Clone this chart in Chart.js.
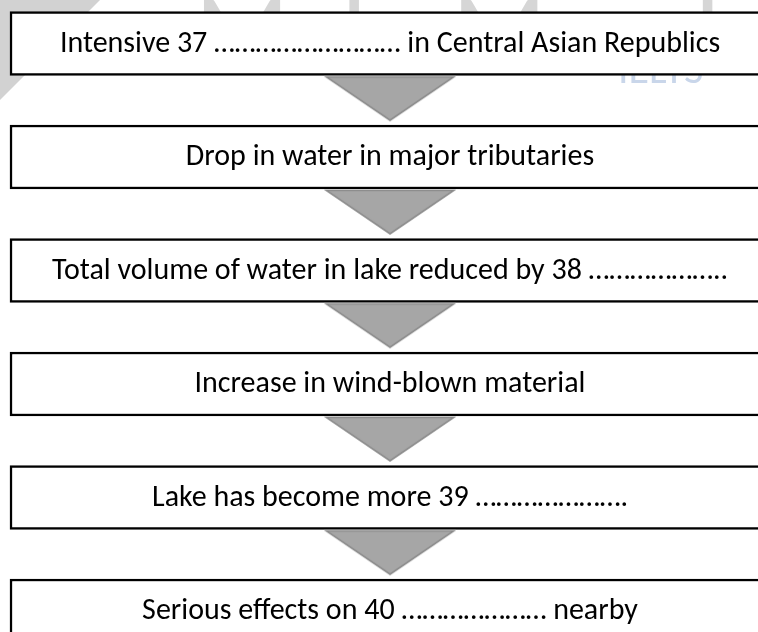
<!DOCTYPE html>
<html>
<head>
<meta charset="utf-8">
<script src="https://cdn.jsdelivr.net/npm/chart.js@4/dist/chart.umd.min.js"></script>
<style>
  html, body { margin: 0; padding: 0; background: #ffffff; }
  #wrap { width: 758px; height: 632px; position: relative; }
</style>
</head>
<body>
<div id="wrap"><canvas id="c" width="758" height="632"></canvas></div>
<script>
// ---- data ----
const steps = [
  "Intensive 37 \u2026\u2026\u2026\u2026\u2026\u2026\u2026\u2026\u2026 in Central Asian Republics",
  "Drop in water in major tributaries",
  "Total volume of water in lake reduced by 38 \u2026\u2026\u2026\u2026\u2026\u2026..",
  "Increase in wind-blown material",
  "Lake has become more 39 \u2026\u2026\u2026\u2026\u2026\u2026\u2026.",
  "Serious effects on 40 \u2026\u2026\u2026\u2026\u2026\u2026\u2026 nearby"
];
const stepIndex = [0, 1, 2, 3, 4, 5];
const stepSpan = [0, 1];
const connectors = [0.5, 1.5, 2.5, 3.5, 4.5];
const connectorX = 0.5;

// ---- arrow head image (style) ----
function makeArrow() {
  const cv = document.createElement('canvas');
  cv.width = 132; cv.height = 50;
  const g = cv.getContext('2d');
  g.beginPath();
  g.moveTo(2, 1.5); g.lineTo(130, 1.5); g.lineTo(66, 45);
  g.closePath();
  g.fillStyle = '#a6a6a6';
  g.fill();
  g.lineWidth = 1.6;
  g.strokeStyle = '#8a8a8a';
  g.stroke();
  return cv;
}
const arrowImg = makeArrow();

const FONT = '"Carlito", "Lato", "Open Sans", sans-serif';

const watermark = {
  id: 'watermark',
  beforeDraw(chart) {
    const ctx = chart.ctx;
    ctx.save();
    ctx.fillStyle = '#d2d2d2';
    ctx.beginPath();
    ctx.moveTo(0, 0); ctx.lineTo(100, 0); ctx.lineTo(0, 100); ctx.closePath();
    ctx.fill();
    ctx.font = '110px ' + FONT;
    ctx.fillStyle = '#d6d6d6';
    ctx.textBaseline = 'alphabetic';
    ctx.fillText('MahaMood', 195, 70);
    ctx.font = '42px ' + FONT;
    ctx.fillStyle = '#c9d6ea';
    ctx.fillText('IELTS', 618, 83);
    ctx.restore();
  }
};

const labelsPlugin = {
  id: 'stepLabels',
  afterDatasetsDraw(chart) {
    const meta = chart.getDatasetMeta(0);
    const ctx = chart.ctx;
    ctx.save();
    ctx.font = '30px ' + FONT;
    ctx.fillStyle = '#000000';
    ctx.textAlign = 'center';
    ctx.textBaseline = 'alphabetic';
    meta.data.forEach((el, i) => {
      const cx = (el.x + el.base) / 2;
      ctx.fillText(steps[i], cx, el.y + 8);
    });
    ctx.restore();
  }
};

new Chart(document.getElementById('c'), {
  type: 'bar',
  data: {
    datasets: [
      {
        type: 'bar',
        data: stepIndex.map(i => ({ x: stepSpan, y: i })),
        backgroundColor: '#ffffff',
        borderColor: '#000000',
        borderWidth: 2.5,
        borderSkipped: false,
        barThickness: 64,
        order: 1
      },
      {
        type: 'scatter',
        data: connectors.map(c => ({ x: connectorX, y: c })),
        pointStyle: arrowImg,
        showLine: false,
        order: 0
      }
    ]
  },
  options: {
    indexAxis: 'y',
    responsive: false,
    animation: false,
    devicePixelRatio: 1,
    layout: { padding: 0, autoPadding: false },
    plugins: { legend: { display: false }, tooltip: { enabled: false } },
    scales: {
      x: { type: 'linear', min: -0.01316, max: 0.98421, offset: false, display: false },
      y: { type: 'linear', reverse: true, min: -0.3833, max: 5.185, offset: false, display: false }
    }
  },
  plugins: [watermark, labelsPlugin]
});
</script>
</body>
</html>
